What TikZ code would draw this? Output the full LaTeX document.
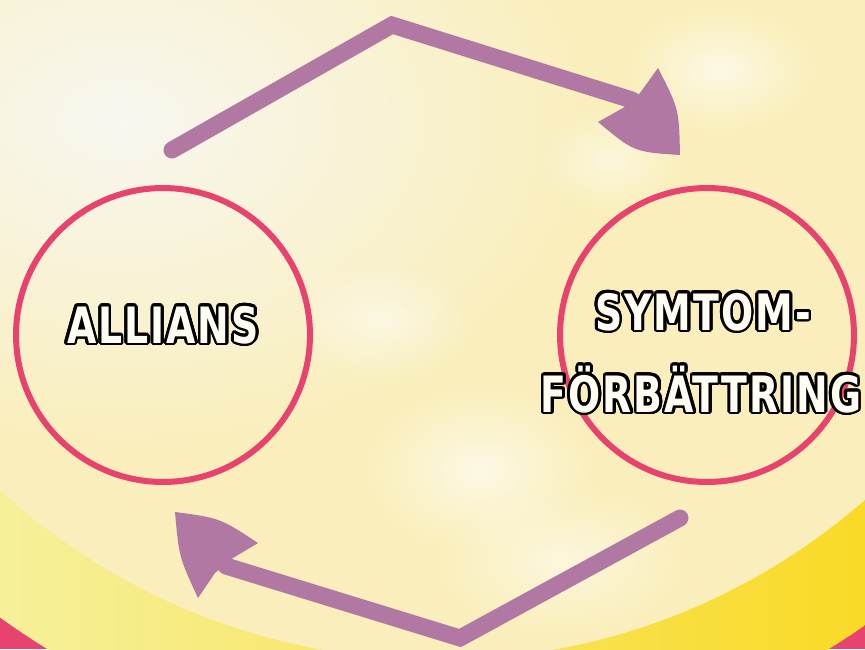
\documentclass[tikz,border=0pt]{standalone}
\usepackage{fontspec}
\usepackage{contour}
\usetikzlibrary{fadings}
\newfontfamily\handfont{DejaVu Sans Condensed}[LetterSpace=4.0,FakeStretch=0.84]
\definecolor{ringpink}{HTML}{E8436E}
\definecolor{arrowpurple}{HTML}{B078A2}
\definecolor{paleyellow}{HTML}{FAEFBC}
\definecolor{creamwhite}{HTML}{F8F7F0}
\definecolor{sunyellow}{HTML}{F9DA26}
\definecolor{lightyellow}{HTML}{F6F09A}
\definecolor{letterwhite}{HTML}{FFFDF2}
\contourlength{1.5pt}
\contournumber{24}
\tikzfading[name=softspot, inner color=transparent!0, outer color=transparent!100]
\begin{document}
\begin{tikzpicture}[x=0.02cm,y=-0.02cm,
  ringcircle/.style={circle,draw=ringpink,line width=0.12cm,minimum size=5.88cm,inner sep=0pt},
  handlabel/.style={anchor=base,inner sep=0pt,text=letterwhite,font=\handfont\bfseries\fontsize{28.5}{34}\selectfont},
  flowarrow/.style={draw=arrowpurple,line width=0.34cm,line cap=round,line join=miter},
  flowhead/.style={fill=arrowpurple}]
  \useasboundingbox (0,0) rectangle (865,649);
  % background: pink rim, yellow band, pale disk
  \fill[ringpink] (0,0) rectangle (865,649);
  \begin{scope}
    \clip (438,11) circle[radius=748];
    \shade[left color=lightyellow,right color=sunyellow] (0,0) rectangle (865,649);
  \end{scope}
  \fill[paleyellow] (438,11) circle[radius=649];
  \begin{scope}
    \clip (438,11) circle[radius=649];
    \fill[creamwhite,path fading=softspot] (120,120) ellipse[x radius=480,y radius=330];
    \fill[white,opacity=0.6,path fading=softspot] (720,70) ellipse[x radius=90,y radius=60];
    \fill[white,opacity=0.5,path fading=softspot] (610,160) ellipse[x radius=70,y radius=50];
    \fill[white,opacity=0.5,path fading=softspot] (380,320) ellipse[x radius=90,y radius=60];
    \fill[white,opacity=0.6,path fading=softspot] (480,470) ellipse[x radius=110,y radius=80];
    \fill[white,opacity=0.5,path fading=softspot] (560,560) ellipse[x radius=120,y radius=70];
  \end{scope}
  % circles
  \node[ringcircle] (allians) at (163,335) {};
  \node[ringcircle] (symtom) at (707,335) {};
  \node[handlabel] (alliansname) at (163,343) {\contour{black}{ALLIANS}};
  \node[handlabel] (symtomtop) at (703,330) {\contour{black}{SYMTOM-}};
  \node[handlabel] (symtombottom) at (701,412) {\contour{black}{FÖRBÄTTRING}};
  % top arrow
  \coordinate (topstart) at (172,150);
  \coordinate (toppeak) at (392,25);
  \coordinate (topend) at (632,100);
  \draw[flowarrow] (topstart) -- (toppeak) -- (topend);
  \fill[flowhead] (658,68) .. controls (679,109) .. (680,155) .. controls (634,152) .. (598,122) -- (623,108) -- (640,93) -- cycle;
  % bottom arrow
  \coordinate (bottomstart) at (680,518);
  \coordinate (bottompeak) at (460,638);
  \coordinate (bottomend) at (226,566);
  \draw[flowarrow] (bottomstart) -- (bottompeak) -- (bottomend);
  \fill[flowhead] (175,512) .. controls (220,518) .. (258,543) -- (233,558) -- (215,573) -- (198,598) .. controls (179,557) .. (175,512) -- cycle;
\end{tikzpicture}
\end{document}
